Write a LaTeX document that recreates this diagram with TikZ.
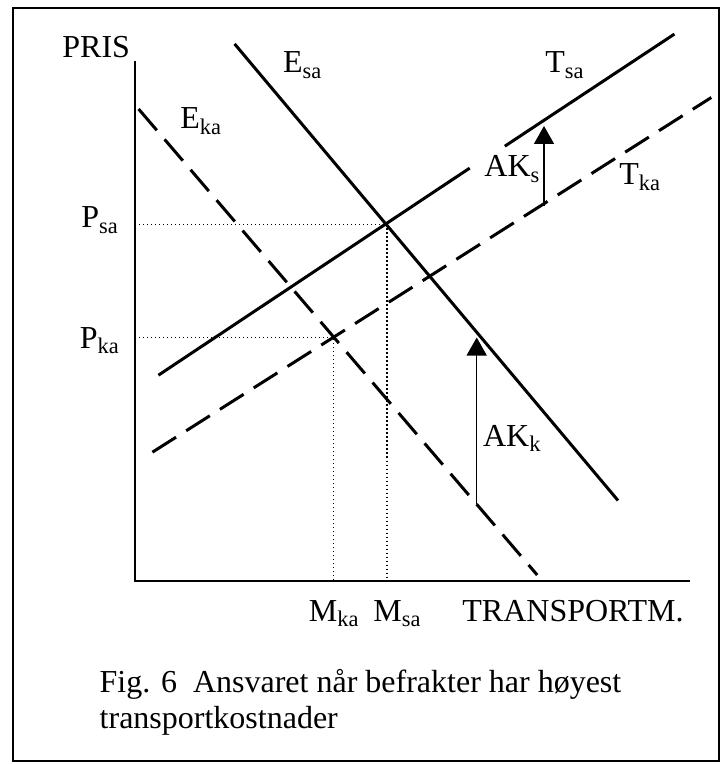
\documentclass[tikz,border=0pt]{standalone}
\usepackage{fontspec}
\setmainfont{Liberation Serif}
\usetikzlibrary{arrows.meta}

\begin{document}
\begin{tikzpicture}[
    x=0.5pt, y=-0.5pt,
    >={Triangle[width=10pt,length=9pt]},
    font=\fontsize{16}{19}\selectfont,
    lbl/.style={inner sep=0pt, anchor=base west},
    frameline/.style={line width=1pt},
    axisline/.style={line width=0.7pt},
    solidline/.style={line width=1.5pt},
    dashline/.style={line width=1.5pt, dash pattern=on 14pt off 6pt},
    guideline/.style={line width=0.7pt, dash pattern=on 0.7pt off 1.3pt},
    costarrow/.style={->, line width=0.7pt}
]
    \useasboundingbox (0,0) rectangle (723,764);
    \draw [frameline] (13,8) rectangle (719,761);

    % axes
    \coordinate (O) at (135,581);
    \coordinate (ytop) at (135,61.5);
    \coordinate (xend) at (690,581);
    \draw [axisline] (ytop) -- (O) -- (xend);

    % curve end points and equilibria
    \coordinate (esaA) at (234.6,43.9);
    \coordinate (esaB) at (618,500.5);
    \coordinate (ekaA) at (138.6,109);
    \coordinate (ekaB) at (537.2,575);
    \coordinate (tsaA) at (158.4,375.2);
    \coordinate (tsaC) at (469.7,168.1);
    \coordinate (tsaD) at (504.8,146.2);
    \coordinate (tsaB) at (674.4,34.1);
    \coordinate (tkaA) at (152.4,452.2);
    \coordinate (tkaB) at (711.3,97.5);
    \coordinate (eqsa) at (387,224.5);
    \coordinate (eqka) at (333.5,337.3);

    \draw [guideline] (O |- eqsa) -- (eqsa) -- (eqsa |- O);
    \draw [guideline] (O |- eqka) -- (eqka) -- (eqka |- O);

    \draw [solidline] (esaA) -- (esaB);
    \draw [dashline] (ekaA) -- (ekaB);
    \draw [solidline] (tsaA) -- (tsaC);
    \draw [solidline] (tsaD) -- (tsaB);
    \draw [dashline] (tkaA) -- (tkaB);

    % cost shifts
    \coordinate (akkTail) at (476.7,504.3);
    \coordinate (akkTip) at (476.7,337.5);
    \coordinate (aksTail) at (544,206);
    \coordinate (aksTip) at (544,126);
    \draw [costarrow] (akkTail) -- (akkTip);
    \draw [costarrow] (aksTail) -- (aksTip);

    \node [lbl] (pris) at (62,58) {PRIS};
    \node [lbl] (esa) at (282.7,73) {E\textsubscript{sa}};
    \node [lbl] (tsa) at (545,73) {T\textsubscript{sa}};
    \node [lbl] (eka) at (180,129) {E\textsubscript{ka}};
    \node [lbl] (aks) at (484,177) {AK\textsubscript{s}};
    \node [lbl] (tka) at (619,185) {T\textsubscript{ka}};
    \node [lbl] (psa) at (81,228) {P\textsubscript{sa}};
    \node [lbl] (pka) at (79.5,348) {P\textsubscript{ka}};
    \node [lbl] (akk) at (482.7,446) {AK\textsubscript{k}};
    \node [lbl] (mka) at (308.5,621) {M\textsubscript{ka}};
    \node [lbl] (msa) at (373,621) {M\textsubscript{sa}};
    \node [lbl] (qty) at (462,621) {TRANSPORTM.};
    \node [lbl] (cap1) at (99.3,692) {Fig. 6\ \ Ansvaret når befrakter har høyest};
    \node [lbl] (cap2) at (99.3,728.6) {transportkostnader};

\end{tikzpicture}
\end{document}
